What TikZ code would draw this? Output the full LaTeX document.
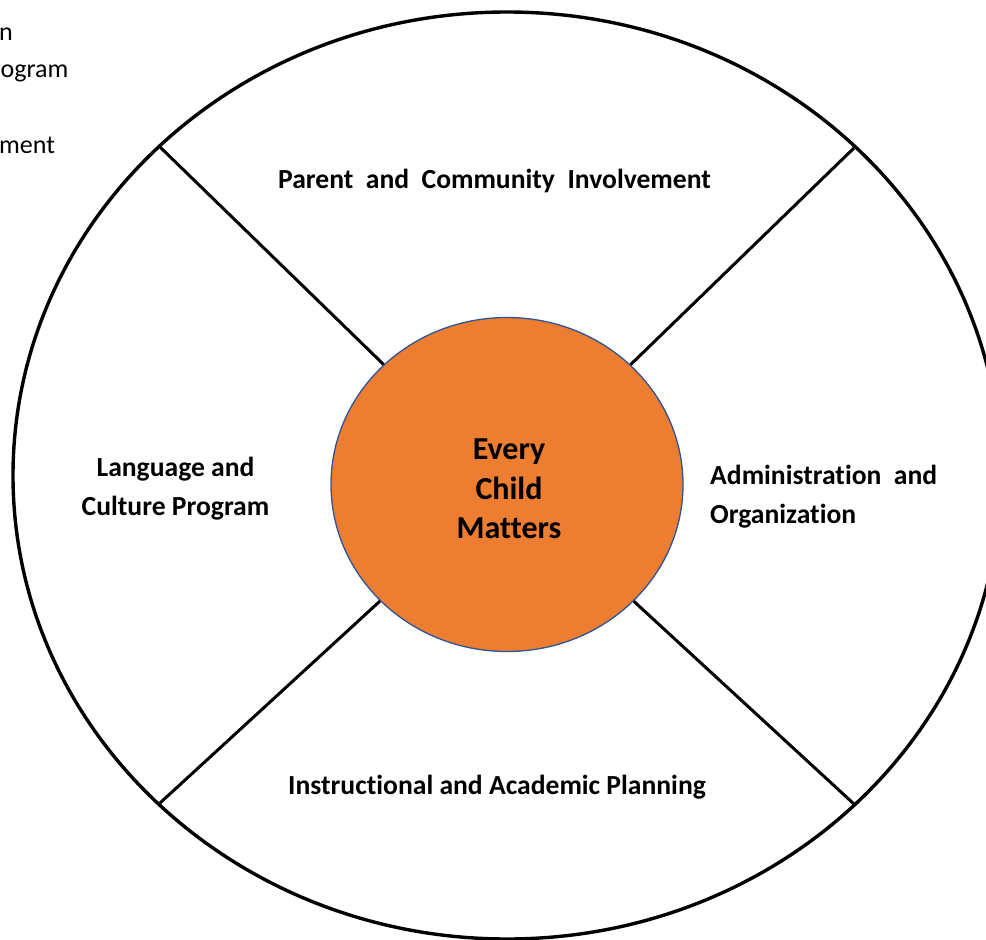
\documentclass[tikz,border=0pt]{standalone}
\usepackage{fontspec}
\setmainfont{Carlito}[Ligatures=NoCommon]
\usetikzlibrary{shapes.geometric}
\definecolor{hubfill}{HTML}{ED7D31}
\definecolor{hubline}{HTML}{2F5597}
\begin{document}
\begin{tikzpicture}[x=1pt,y=-1pt,
  rim/.style={line width=3.4pt},
  spoke/.style={line width=3pt},
  sector/.style={font=\fontsize{27.6}{39}\selectfont\bfseries, inner sep=0pt},
  note/.style={font=\fontsize{26}{38}\selectfont, inner sep=0pt, anchor=base west},
  hubstyle/.style={ellipse, draw=hubline, line width=1.3pt, fill=hubfill,
    minimum width=352pt, minimum height=334pt, inner sep=0pt},
  motto/.style={align=center, inner sep=0pt,
    font=\fontsize{32}{39.5}\selectfont\bfseries}]
\useasboundingbox (0,0) rectangle (986,940);
\clip (0,0) rectangle (986,940);

% margin notes
\node[note] (n1) at (-1,40) {n};
\node[note] (n2) at (0.5,77) {ogram};
\node[note] (n3) at (-1,153) {ment};

% outer wheel
\draw[rim] (507,475.5) ellipse [x radius=494pt, y radius=463.5pt];

% hub
\node[hubstyle] (hub) at (507,484.5) {};
\node[motto] (mottotext) at (509,489) {Every\\Child\\Matters};

% points where the spokes meet the rim
\coordinate (nw) at (160,147);
\coordinate (ne) at (854,148);
\coordinate (se) at (854,804);
\coordinate (sw) at (160,803);
\draw[spoke] (nw) -- (hub);
\draw[spoke] (ne) -- (hub);
\draw[spoke] (se) -- (hub);
\draw[spoke] (sw) -- (hub);

% sector labels
\node[sector, anchor=base] (top) at (494.5,188) {Parent\ \ and\ \ Community\ \ Involvement};
\node[sector, align=center] (left) at (175.5,488.5) {Language and\\Culture Program};
\node[sector, align=left, anchor=west] (right) at (710,497) {Administration\ \ and\\Organization};
\node[sector, anchor=base] (bottom) at (497,794) {Instructional and Academic Planning};
\end{tikzpicture}
\end{document}
